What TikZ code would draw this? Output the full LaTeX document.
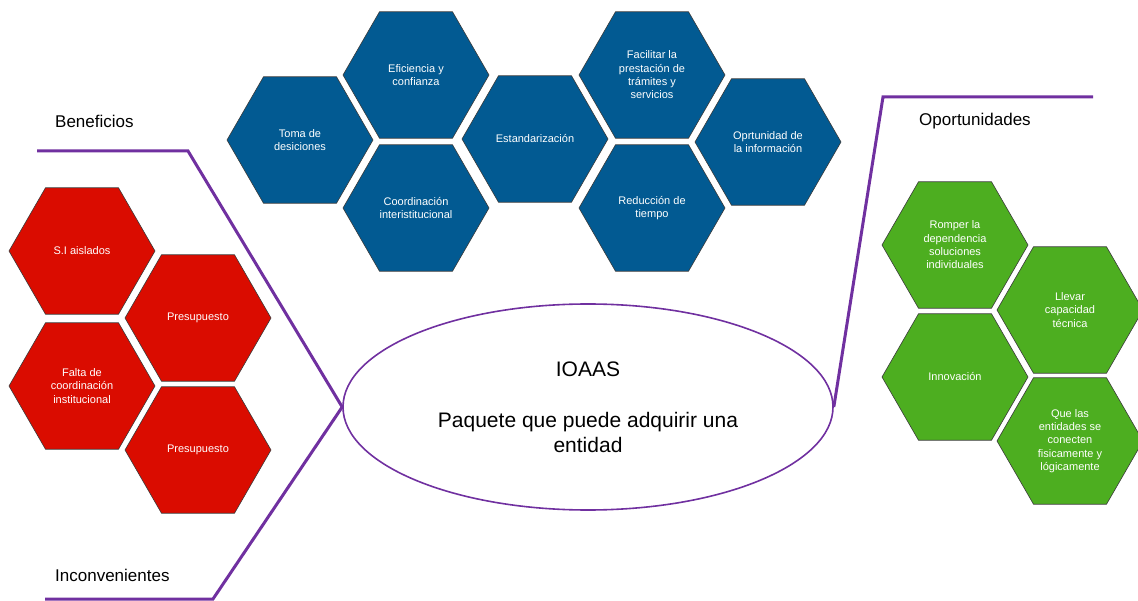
\documentclass[tikz,border=0pt]{standalone}
\usepackage{fontspec}
\setmainfont{Liberation Sans}
\usepackage{xcolor}
\usetikzlibrary{shapes.geometric}
\definecolor{azul}{HTML}{025A92}
\definecolor{rojo}{HTML}{DA0C00}
\definecolor{verde}{HTML}{4DAE20}
\definecolor{lila}{HTML}{7030A0}
\definecolor{borde}{HTML}{3A3A3A}
\tikzset{
  hexa/.style={regular polygon,regular polygon sides=6,
    minimum size=146pt,inner sep=0pt,draw=borde,line width=0.6pt,
    text=white,align=center,font=\fontsize{11}{13.3}\selectfont},
  rama/.style={lila,line width=3pt,line join=miter},
  titulo/.style={anchor=base west,inner sep=0pt,text=black,font=\fontsize{17}{20}\selectfont}
}

\begin{document}
\begin{tikzpicture}[x=1pt,y=-1pt]
\useasboundingbox (0,0) rectangle (1138,601);
% beneficios (azul)
\foreach \nm/\cx/\cy/\txt in {toma/300/140/{Toma de\\desiciones},
    efic/416/75/{Eficiencia y\\confianza},
    coord/416/208/{Coordinaci\'on\\interistitucional},
    estand/535/139/{Estandarizaci\'on},
    facil/652/75/{Facilitar la\\prestaci\'on de\\tr\'amites y\\servicios},
    reduc/652/208/{Reducci\'on de\\tiempo},
    oport/768/142/{Oprtunidad de\\la informaci\'on}}{%
  \node[hexa,fill=azul] (\nm) at (\cx,\cy) {\txt};
}
% inconvenientes (rojo)
\foreach \nm/\cx/\cy/\txt in {aisl/82/251/{S.I aislados},
    presA/198/318/{Presupuesto},
    falta/82/386/{Falta de\\coordinaci\'on\\institucional},
    presB/198/450/{Presupuesto}}{%
  \node[hexa,fill=rojo] (\nm) at (\cx,\cy) {\txt};
}
% oportunidades (verde)
\foreach \nm/\cx/\cy/\txt in {romper/955/245/{Romper la\\dependencia\\soluciones\\individuales},
    llevar/1070/310/{Llevar\\capacidad\\t\'ecnica},
    innov/955/377/{Innovaci\'on},
    conect/1070/441/{Que las\\entidades se\\conecten\\fisicamente y\\l\'ogicamente}}{%
  \node[hexa,fill=verde] (\nm) at (\cx,\cy) {\txt};
}
% centro
\node[ellipse,draw=lila,line width=1.6pt,minimum width=490pt,minimum height=206pt,
  inner sep=0pt,align=center,font=\fontsize{21}{25}\selectfont] (nucleo) at (588,407)
  {IOAAS\\[26pt]Paquete que puede adquirir una\\entidad};
\coordinate (benCodo) at (188,151);
\coordinate (benFin) at (37,151);
\coordinate (incCodo) at (213,599);
\coordinate (incFin) at (45,599);
\coordinate (opoCodo) at (883,97);
\coordinate (opoFin) at (1093,97);
\draw[rama] (nucleo.west) -- (benCodo) -- (benFin);
\draw[rama] (nucleo.west) -- (incCodo) -- (incFin);
\draw[rama] (nucleo.east) -- (opoCodo) -- (opoFin);
\node[titulo] (tBen) at (55,128) {Beneficios};
\node[titulo] (tInc) at (55,581) {Inconvenientes};
\node[titulo] (tOpo) at (919,126) {Oportunidades};
\end{tikzpicture}
\end{document}
